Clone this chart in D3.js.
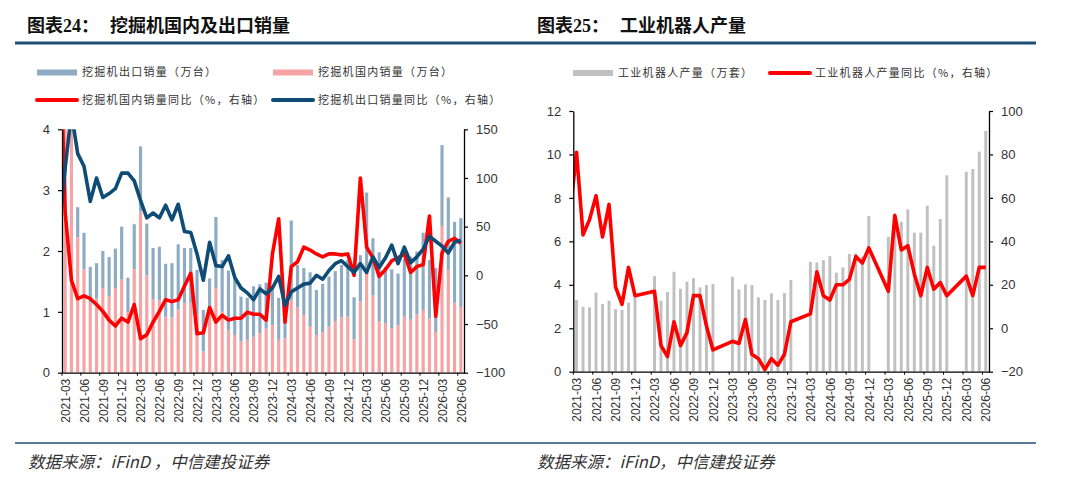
<!DOCTYPE html>
<html>
<head>
<meta charset="utf-8">
<script src="https://cdn.jsdelivr.net/npm/d3@7"></script>
<style>
  body{margin:0;background:#fff;}
  svg text{font-family:"Liberation Sans",Arial,sans-serif;}
  .cjk{font-family:"Noto Sans CJK SC",sans-serif;}
</style>
</head>
<body>
<div id="chart"></div>
<script>
// months shown on both charts: 2021-03 .. 2026-06
var fmt = d3.timeFormat("%Y-%m");
var months = d3.timeMonth.range(new Date(2021,2,1), new Date(2026,6,1)).map(fmt);

// ---- excavator sales (万台), stacked: domestic + export
var excDomestic = [7.3,4.0,2.22,1.70,1.15,1.22,1.39,1.26,1.39,1.53,
                   0.99,1.70,2.65,1.60,1.21,1.19,0.92,0.91,1.04,1.14,
                   1.15,0.95,0.35,1.00,1.39,1.00,0.70,0.62,0.51,0.54,
                   0.59,0.65,0.73,0.78,0.54,0.57,1.20,1.07,0.95,0.76,
                   0.62,0.67,0.76,0.85,0.91,0.92,0.55,1.17,1.74,1.27,
                   0.84,0.81,0.73,0.78,0.92,0.87,0.96,1.03,0.89,0.67,
                   2.41,1.69,1.15,1.08];
var excExport = [0.6,0.7,0.50,0.60,0.59,0.58,0.61,0.64,0.65,0.87,
                 0.57,0.74,1.07,0.85,0.84,0.88,0.87,0.89,1.07,0.91,
                 0.90,0.74,0.68,0.55,1.17,0.85,0.98,0.92,0.74,0.69,
                 0.83,0.80,0.75,0.65,0.69,0.58,1.30,0.70,0.77,0.89,
                 0.74,0.79,0.82,0.82,0.86,0.93,0.69,0.76,1.22,0.94,
                 1.14,0.93,0.97,0.85,0.95,1.04,1.03,1.27,0.96,1.05,
                 1.33,1.19,1.33,1.46];
// YoY % (right axis); *Prev = the month before 2021-03, only its clipped segment shows
var excDomYoyPrev = 290;
var excDomYoy = [65,-5,-24,-21,-24,-30,-37,-46,-52,-44,
                 -48,-30,-65,-61,-48,-37,-25,-27,-25,-11,
                 2,-60,-59,-33,-48,-41,-46,-44,-44,-38,
                 -40,-40,-46,22,58,-48,9,14,29,26,
                 22,19,22,22,21,22,0,100,29,18,
                 -1,6,15,18,22,3,9,11,61,-42,
                 23,35,38,33];
var excExpYoyPrev = 44;
var excExpYoy = [110,167,125,112,76,100,80,84,89,105,
                 105,97,77,59,64,59,72,57,73,45,
                 44,22,-5,34,10,9,20,-2,-13,-18,
                 -25,-14,-19,-13,-1,-31,-17,-13,-9,-8,
                 0,-4,5,12,15,9,3,12,3,19,
                 8,18,31,12,29,13,19,27,40,35,
                 30,23,34,36];

// ---- industrial robot output (万套) and YoY %, Jan/Feb not published
var robotOutput = [3.30,2.99,2.96,3.64,3.11,3.27,2.88,2.84,3.18,3.45,
                   null,null,4.40,3.27,3.67,4.60,3.82,4.14,4.30,3.88,
                   3.99,4.04,null,null,4.37,3.79,4.02,3.99,3.42,3.30,
                   3.61,3.30,3.62,4.22,null,null,5.06,5.03,5.14,5.32,
                   4.56,4.80,5.42,5.45,5.30,7.17,null,null,6.21,6.60,
                   6.90,7.47,6.40,6.40,7.64,5.80,7.03,9.04,null,null,
                   9.20,9.33,10.13,11.08];
var robotYoyPrev = 53;
var robotYoy = [81,43,50,61,42,57,19,11,28,15,
                null,null,17,-8,-13,3,-8,-2,15,15,
                1,-10,null,null,-6,-7,4,-12,-14,-19,
                -14,-17,-12,3,null,null,6.6,26,15,13,
                20,20,22.5,33,30,37,null,null,17,52,
                36,38,25,15,28,18,21,15,null,null,
                24,15,28,28];

var labelIdx = d3.range(0, months.length, 3);

var colors = {export:"#8eabc4", domestic:"#f5a3a3", domYoy:"#ff0000", expYoy:"#0f4c75", robot:"#c0c0c0", robotYoy:"#ff0000"};

var svg = d3.select("#chart").append("svg")
    .attr("width",1080).attr("height",489)
    .style("background","#fff");

// header / footer rules
svg.append("line").attr("x1",15).attr("x2",1036).attr("y1",43).attr("y2",43)
    .attr("stroke","#1d4f76").attr("stroke-width",3);
svg.append("line").attr("x1",15).attr("x2",1036).attr("y1",443).attr("y2",443)
    .attr("stroke","#1d4f76").attr("stroke-width",1.5);

function title(x, label, x2, name){
  svg.append("text").attr("x",x).attr("y",32).attr("font-size",18).attr("font-weight","bold")
    .attr("fill","#111").style("font-family","'Liberation Serif','Noto Sans CJK SC',serif").text(label);
  svg.append("text").attr("x",x2).attr("y",32).attr("font-size",18).attr("font-weight","bold")
    .attr("fill","#111").attr("class","cjk").text(name);
}
title(27,"图表24：",110,"挖掘机国内及出口销量");
title(537,"图表25：",620,"工业机器人产量");

function footer(x, txt){
  svg.append("text").attr("x",x).attr("y",468).attr("font-size",16.5).attr("font-style","italic")
    .attr("fill","#333").attr("class","cjk").text(txt);
}
footer(28,"数据来源：iFinD ，中信建投证券");
footer(537,"数据来源：iFinD，中信建投证券");

function legendItem(x, y, kind, color, txt){
  if(kind=="rect"){
    svg.append("rect").attr("x",x).attr("y",y-3).attr("width",40).attr("height",6).attr("fill",color);
  }else{
    svg.append("line").attr("x1",x).attr("x2",x+40).attr("y1",y).attr("y2",y)
      .attr("stroke",color).attr("stroke-width",4).attr("stroke-linecap","round");
  }
  svg.append("text").attr("x",x+45).attr("y",y).attr("dy","0.36em").attr("font-size",11)
    .attr("letter-spacing","1.3px").attr("fill","#333").attr("class","cjk").text(txt);
}
legendItem(37,72.5,"rect",colors.export,"挖掘机出口销量（万台）");
legendItem(273,72.5,"rect",colors.domestic,"挖掘机国内销量（万台）");
legendItem(37,100,"line",colors.domYoy,"挖掘机国内销量同比（%，右轴）");
legendItem(273,100,"line",colors.expYoy,"挖掘机出口销量同比（%，右轴）");
legendItem(573,73,"rect",colors.robot,"工业机器人产量（万套）");
legendItem(770,73,"line",colors.robotYoy,"工业机器人产量同比（%，右轴）");

function styleAxis(g){
  g.select(".domain").attr("stroke","#000").attr("stroke-width",1.3);
  g.selectAll(".tick line").attr("stroke","#000").attr("stroke-width",1.2);
  g.selectAll(".tick text").attr("fill","#333").attr("font-size",13)
    .style("font-family","'Liberation Sans',Arial,sans-serif");
}

function xAxis(g, x, box){
  var ax = g.append("g").attr("transform","translate(0,"+box.bottom+")")
    .call(d3.axisBottom(x).tickValues(labelIdx).tickFormat(function(i){return months[i];})
      .tickSize(0).tickSizeOuter(0).tickPadding(0));
  styleAxis(ax);
  ax.selectAll(".tick text").attr("font-size",12)
    .attr("transform","rotate(-90)").attr("x",-6).attr("y",0).attr("dy","0.35em")
    .style("text-anchor","end");
  g.selectAll(".xtick").data(labelIdx).join("line").attr("class","xtick")
    .attr("x1",function(i){return x(i-0.5);}).attr("x2",function(i){return x(i-0.5);})
    .attr("y1",box.bottom).attr("y2",box.bottom+3).attr("stroke","#000");
}

function clip(id, box){
  svg.append("clipPath").attr("id",id).append("rect")
    .attr("x",box.left).attr("y",box.top).attr("width",box.right-box.left).attr("height",box.bottom-box.top);
}

var intFmt = d3.format("d");

// ================= left chart =================
var L = {left:62, right:464, top:129.3, bottom:372.7};
clip("clipL", L);
var xL = d3.scaleLinear().domain([-0.5, months.length-0.5]).range([L.left, L.right]);
var yL = d3.scaleLinear().domain([0,4]).range([L.bottom, L.top]);
var yLR = d3.scaleLinear().domain([-100,150]).range([L.bottom, L.top]);
var bwL = (xL(1)-xL(0))*0.5;

var gL = svg.append("g");
var plotL = gL.append("g").attr("clip-path","url(#clipL)");

var rows = months.map(function(m,i){ return {i:i, domestic:excDomestic[i], export:excExport[i]}; });
var stacked = d3.stack().keys(["domestic","export"])(rows);
plotL.selectAll("g.layer").data(stacked).join("g").attr("class","layer")
  .attr("fill",function(d){return colors[d.key];})
  .selectAll("rect").data(function(d){return d;}).join("rect")
  .attr("x",function(d){return xL(d.data.i)-bwL/2;})
  .attr("width",bwL)
  .attr("y",function(d){return yL(d[1]);})
  .attr("height",function(d){return yL(d[0])-yL(d[1]);});

var lineL = d3.line().x(function(d){return xL(d.i);}).y(function(d){return yLR(d.v);});
function series(prev, arr){
  return [{i:-1, v:prev}].concat(arr.map(function(v,i){return {i:i, v:v};}))
    .filter(function(d){return d.v!=null;});
}
plotL.append("path").datum(series(excDomYoyPrev, excDomYoy))
  .attr("d",lineL).attr("fill","none").attr("stroke",colors.domYoy)
  .attr("stroke-width",3.6).attr("stroke-linejoin","round");
plotL.append("path").datum(series(excExpYoyPrev, excExpYoy))
  .attr("d",lineL).attr("fill","none").attr("stroke",colors.expYoy)
  .attr("stroke-width",3.6).attr("stroke-linejoin","round");

styleAxis(gL.append("g").attr("transform","translate("+L.left+",0)")
  .call(d3.axisLeft(yL).tickValues([0,1,2,3,4]).tickFormat(intFmt).tickSize(4).tickSizeOuter(0).tickPadding(8)));
styleAxis(gL.append("g").attr("transform","translate("+L.right+",0)")
  .call(d3.axisRight(yLR).tickValues([-100,-50,0,50,100,150]).tickFormat(intFmt).tickSize(4).tickSizeOuter(0).tickPadding(8)));
xAxis(gL, xL, L);

// ================= right chart =================
var R = {left:573.3, right:989, top:111, bottom:371.7};
clip("clipR", R);
var xR = d3.scaleLinear().domain([-0.5, months.length-0.5]).range([R.left, R.right]);
var yR = d3.scaleLinear().domain([0,12]).range([R.bottom, R.top]);
var yRR = d3.scaleLinear().domain([-20,100]).range([R.bottom, R.top]);
var bwR = (xR(1)-xR(0))*0.45;

var gR = svg.append("g");
var plotR = gR.append("g").attr("clip-path","url(#clipR)");

plotR.selectAll("rect").data(robotOutput.map(function(v,i){return {i:i, v:v};})
    .filter(function(d){return d.v!=null;}))
  .join("rect").attr("fill",colors.robot)
  .attr("x",function(d){return xR(d.i)-bwR/2;}).attr("width",bwR)
  .attr("y",function(d){return yR(d.v);})
  .attr("height",function(d){return yR(0)-yR(d.v);});

var lineR = d3.line().x(function(d){return xR(d.i);}).y(function(d){return yRR(d.v);});
plotR.append("path").datum(series(robotYoyPrev, robotYoy))
  .attr("d",lineR).attr("fill","none").attr("stroke",colors.robotYoy)
  .attr("stroke-width",3.6).attr("stroke-linejoin","round");

styleAxis(gR.append("g").attr("transform","translate("+R.left+",0)")
  .call(d3.axisLeft(yR).tickValues(d3.range(0,13,2)).tickFormat(intFmt).tickSize(4).tickSizeOuter(0).tickPadding(8)));
styleAxis(gR.append("g").attr("transform","translate("+R.right+",0)")
  .call(d3.axisRight(yRR).tickValues(d3.range(-20,101,20)).tickFormat(intFmt).tickSize(4).tickSizeOuter(0).tickPadding(8)));
xAxis(gR, xR, R);
</script>
</body>
</html>
